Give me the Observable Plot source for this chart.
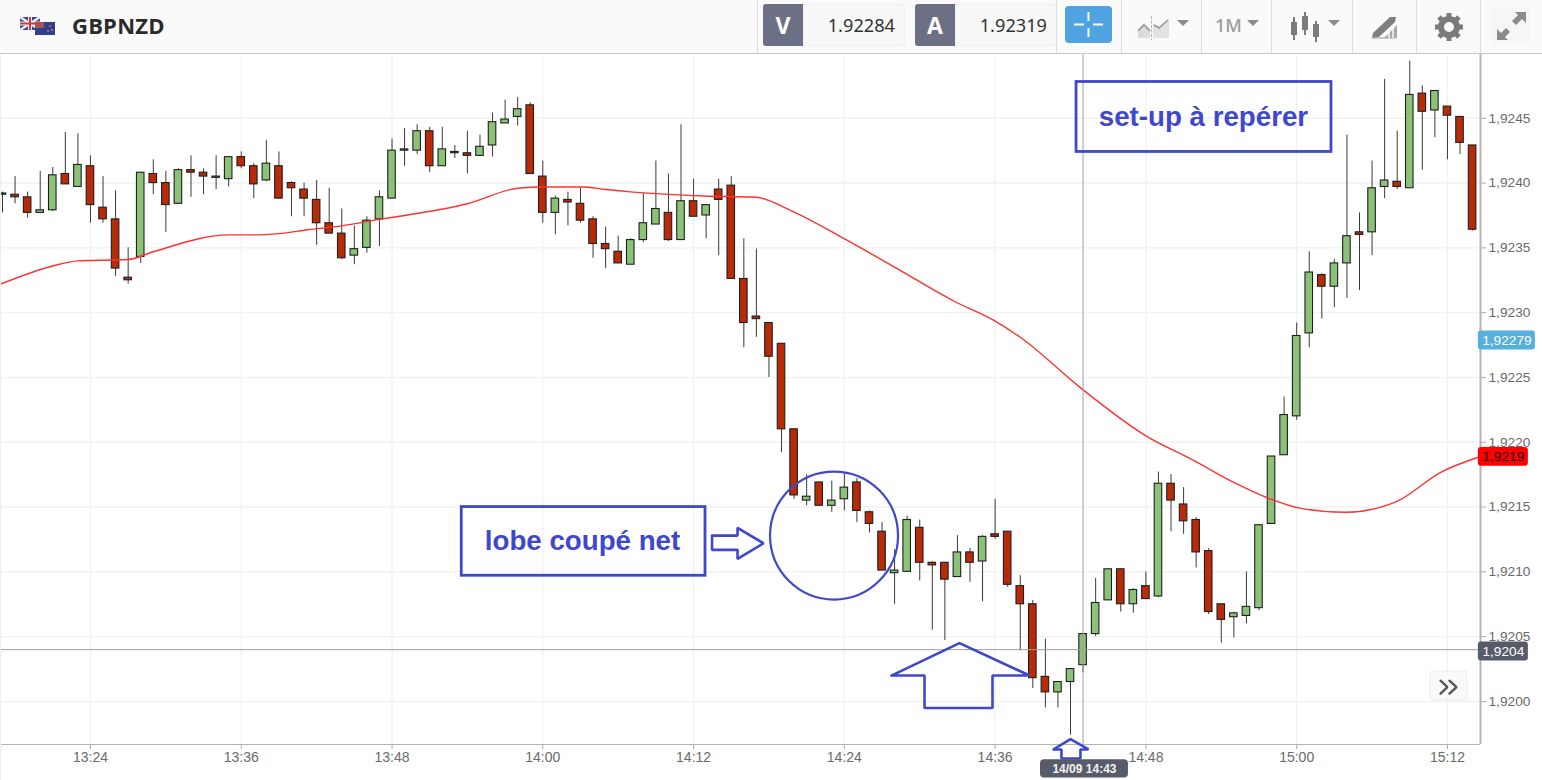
<!DOCTYPE html>
<html lang="fr">
<head>
<meta charset="utf-8">
<title>GBPNZD</title>
<script src="https://cdn.jsdelivr.net/npm/d3@7"></script>
<script src="https://cdn.jsdelivr.net/npm/@observablehq/plot@0.6"></script>
<style>
html,body{margin:0;padding:0;background:#fff;overflow:hidden;}
#page{position:relative;width:1542px;height:780px;}
#bar{position:absolute;left:0;top:0;width:1542px;height:53px;background:#fafafa;border-bottom:1.5px solid #c8c8c8;font-family:"Open Sans",sans-serif;}
#bar > *{position:absolute;}
#sym{left:72px;top:10px;font-size:22px;font-weight:700;color:#2b2b2b;letter-spacing:.2px;}
.k{top:4px;width:40px;height:42px;background:#6b7085;color:#fff;font-size:23px;font-weight:700;text-align:center;line-height:42px;border-radius:3px 0 0 3px;}
.v{top:4px;width:100px;height:40px;background:#f8f8f8;border:1px solid #f0f0f0;border-radius:0 3px 3px 0;box-sizing:content-box;color:#333;font-family:"Noto Sans",sans-serif;font-size:18.2px;line-height:40px;text-align:right;}
.v span{padding-right:9px;}
.sep{top:0;width:1px;height:53px;background:#dcdcdc;}
.caret{width:0;height:0;border-left:6px solid transparent;border-right:6px solid transparent;border-top:6px solid #8b8b8b;top:20px;}
#tf{left:1215px;top:13px;font-family:"Open Sans",sans-serif;font-size:18px;font-weight:600;color:#a0a0a0;}
#plus{left:1065px;top:6px;width:47px;height:37px;background:#4fa3e0;border-radius:4px;}
#chart{position:absolute;left:0;top:54px;width:1542px;height:726px;}
#edge{position:absolute;left:0;top:0;width:1px;height:780px;background:#eee;}
</style>
</head>
<body>
<div id="page">
<div id="chart"></div>
<div id="edge"></div>
<div id="bar">
  <svg style="left:19px;top:16px" width="38" height="20" viewBox="0 0 38 20">
    <rect x="1" y="1" width="20" height="13" fill="#3b4a8f"/>
    <path d="M1 1L21 14M21 1L1 14" stroke="#eee" stroke-width="2.4"/>
    <path d="M11 1V14M1 7.5H21" stroke="#eee" stroke-width="4"/>
    <path d="M11 1V14M1 7.5H21" stroke="#d03a40" stroke-width="2"/>
    <rect x="16" y="6" width="20" height="13" fill="#2f3f8e"/>
    <rect x="16" y="6" width="9" height="6" fill="#a55"/>
    <circle cx="31" cy="10" r="1" fill="#e66"/><circle cx="33" cy="14" r="1" fill="#e66"/><circle cx="29" cy="15" r="1" fill="#e66"/>
  </svg>
  <div id="sym">GBPNZD</div>
  <div class="sep" style="left:757px"></div>
  <div class="k" style="left:763px">V</div><div class="v" style="left:803px"><span>1.92284</span></div>
  <div class="k" style="left:915px">A</div><div class="v" style="left:955px"><span>1.92319</span></div>
  <div class="sep" style="left:1056px"></div>
  <div id="plus">
    <svg width="47" height="37" style="position:absolute;left:0;top:0"><path d="M23.5 6V15M23.5 22V31M9 18.5H19M28 18.5H38" stroke="#fff" stroke-width="2"/></svg>
  </div>
  <div class="sep" style="left:1121px"></div>
  <svg style="left:1137px;top:14px" width="34" height="26" viewBox="0 0 34 26">
    <path d="M1 22V15L7 9L13 15V24H1Z" fill="#dcdcdc"/><path d="M16 24V10L22 12L32 5V24Z" fill="#e2e2e2"/>
    <path d="M1 17L7 11L13 17M17 11L22 14L31 6" fill="none" stroke="#9a9a9a" stroke-width="1.6"/>
    <path d="M14.5 2V26" stroke="#b5b5b5" stroke-dasharray="3 1.5"/>
  </svg>
  <div class="caret" style="left:1177px"></div>
  <div class="sep" style="left:1201px"></div>
  <div id="tf">1M</div>
  <div class="caret" style="left:1247px"></div>
  <div class="sep" style="left:1271px"></div>
  <svg style="left:1289px;top:11px" width="32" height="31" viewBox="0 0 32 31" fill="#7b7b7b" stroke="#7b7b7b">
    <path d="M5 6V29M16 1V24M27 10V31" fill="none" stroke-width="2"/>
    <rect x="2" y="11" width="6" height="13" stroke="none"/><rect x="13" y="5" width="6" height="14" stroke="none"/><rect x="24" y="13" width="6" height="13" stroke="none"/>
  </svg>
  <div class="caret" style="left:1328px"></div>
  <div class="sep" style="left:1352px"></div>
  <svg style="left:1371px;top:15px" width="28" height="24" viewBox="0 0 28 24">
    <path d="M26 10V23H13Z" fill="#a8a8a8"/>
    <path d="M2 18L19 2L25 2L24 7L8 22L1 23Z" fill="#7f7f7f"/>
    <path d="M1 23H24" stroke="#a8a8a8" stroke-width="1.2"/>
    <path d="M18 23V17M22 23V13" stroke="#fafafa" stroke-width="1.5"/>
  </svg>
  <div class="sep" style="left:1416px"></div>
  <svg style="left:1434px;top:12px" width="30" height="30" viewBox="0 0 30 30">
    <circle cx="15" cy="15" r="8" fill="none" stroke="#7b7b7b" stroke-width="6"/>
    <path d="M15 1V5M15 25V29M1 15H5M25 15H29M5 5L8 8M22 22L25 25M25 5L22 8M8 22L5 25" stroke="#7b7b7b" stroke-width="5"/>
  </svg>
  <div class="sep" style="left:1480px"></div>
  <svg style="left:1492px;top:8px" width="38" height="36" viewBox="0 0 38 36">
    <rect width="38" height="36" fill="#f6f6f6"/>
    <path d="M23 4H34V15L30 11L24 17L20 13L26 7ZM5 32V21L9 25L14 20L18 24L13 29L16 32Z" fill="#8b8b8b"/>
  </svg>
</div>
</div>
<script>
// Time in minutes after 13:00; one candle per minute
const firstMinute = 17;
const opens = [1.92391,1.92391,1.92389,1.92377,1.92379,1.92407,1.92397,1.92413,1.92381,1.92372,
1.92327,1.92343,1.92407,1.92400,1.92384,1.92410,1.92408,1.92404,1.92403,1.92420,
1.92413,1.92402,1.92413,1.92400,1.92395,1.92387,1.92369,1.92361,1.92344,1.92350,
1.92372,1.92388,1.92425,1.92425,1.92440,1.92413,1.92424,1.92423,1.92421,1.92429,
1.92446,1.92451,1.92460,1.92405,1.92377,1.92387,1.92384,1.92372,1.92353,1.92347,
1.92337,1.92356,1.92368,1.92377,1.92356,1.92386,1.92375,1.92395,1.92398,1.92326,
1.92297,1.92292,1.92276,1.92210,1.92155,1.92169,1.92151,1.92156,1.92169,1.92146,
1.92131,1.92099,1.92100,1.92134,1.92107,1.92107,1.92096,1.92115,1.92108,1.92129,
1.92131,1.92089,1.92075,1.92019,1.92007,1.92015,1.92028,1.92052,1.92078,1.92102,
1.92075,1.92089,1.92081,1.92168,1.92152,1.92140,1.92116,1.92075,1.92065,1.92066,
1.92072,1.92137,1.92190,1.92220,1.92284,1.92329,1.92320,1.92338,1.92362,1.92362,
1.92397,1.92401,1.92396,1.92469,1.92456,1.92459,1.92451,1.92429];
const closes = [1.92392,1.92389,1.92377,1.92379,1.92406,1.92399,1.92414,1.92383,1.92372,1.92334,
1.92325,1.92408,1.92400,1.92383,1.92410,1.92408,1.92405,1.92405,1.92420,1.92413,
1.92399,1.92415,1.92388,1.92396,1.92388,1.92369,1.92361,1.92342,1.92349,1.92371,
1.92389,1.92425,1.92426,1.92440,1.92413,1.92426,1.92423,1.92421,1.92428,1.92447,
1.92449,1.92457,1.92407,1.92377,1.92388,1.92385,1.92371,1.92353,1.92349,1.92338,
1.92356,1.92369,1.92380,1.92356,1.92386,1.92374,1.92383,1.92387,1.92326,1.92292,
1.92295,1.92266,1.92210,1.92159,1.92158,1.92151,1.92155,1.92165,1.92147,1.92137,
1.92101,1.92101,1.92140,1.92107,1.92105,1.92094,1.92115,1.92107,1.92127,1.92127,
1.92090,1.92075,1.92018,1.92007,1.92015,1.92025,1.92052,1.92076,1.92102,1.92075,
1.92086,1.92079,1.92168,1.92155,1.92139,1.92115,1.92069,1.92063,1.92068,1.92073,
1.92136,1.92189,1.92221,1.92282,1.92331,1.92320,1.92338,1.92359,1.92360,1.92396,
1.92402,1.92397,1.92468,1.92455,1.92471,1.92452,1.92431,1.92364];
const highs = [1.92393,1.92405,1.92393,1.92409,1.92412,1.92439,1.92438,1.92421,1.92405,1.92394,
1.92350,1.92408,1.92418,1.92409,1.92411,1.92421,1.92411,1.92421,1.92420,1.92424,
1.92415,1.92433,1.92424,1.92401,1.92400,1.92402,1.92396,1.92380,1.92367,1.92374,
1.92394,1.92434,1.92442,1.92445,1.92443,1.92443,1.92429,1.92440,1.92437,1.92454,
1.92464,1.92466,1.92462,1.92417,1.92390,1.92393,1.92396,1.92374,1.92366,1.92359,
1.92357,1.92392,1.92417,1.92407,1.92445,1.92403,1.92383,1.92403,1.92405,1.92357,
1.92349,1.92292,1.92276,1.92210,1.92175,1.92169,1.92170,1.92176,1.92172,1.92147,
1.92138,1.92117,1.92143,1.92140,1.92108,1.92107,1.92128,1.92118,1.92128,1.92156,
1.92131,1.92097,1.92078,1.92048,1.92015,1.92025,1.92052,1.92095,1.92102,1.92102,
1.92087,1.92100,1.92177,1.92175,1.92165,1.92142,1.92118,1.92075,1.92069,1.92100,
1.92136,1.92189,1.92235,1.92292,1.92347,1.92330,1.92341,1.92437,1.92377,1.92417,
1.92480,1.92440,1.92494,1.92475,1.92471,1.92459,1.92451,1.92429];
const lows = [1.92377,1.92384,1.92373,1.92377,1.92378,1.92399,1.92397,1.92369,1.92369,1.92328,
1.92322,1.92338,1.92391,1.92362,1.92384,1.92389,1.92391,1.92395,1.92397,1.92411,
1.92388,1.92401,1.92388,1.92374,1.92374,1.92352,1.92361,1.92341,1.92337,1.92346,
1.92351,1.92388,1.92413,1.92422,1.92408,1.92413,1.92419,1.92407,1.92421,1.92420,
1.92446,1.92444,1.92407,1.92369,1.92360,1.92367,1.92369,1.92342,1.92334,1.92338,
1.92337,1.92354,1.92368,1.92355,1.92356,1.92374,1.92357,1.92344,1.92326,1.92273,
1.92281,1.92250,1.92192,1.92156,1.92151,1.92151,1.92146,1.92147,1.92138,1.92130,
1.92101,1.92075,1.92100,1.92093,1.92055,1.92047,1.92096,1.92092,1.92077,1.92125,
1.92088,1.92039,1.92010,1.91995,1.91995,1.91974,1.92022,1.92050,1.92078,1.92069,
1.92068,1.92079,1.92080,1.92131,1.92129,1.92103,1.92067,1.92045,1.92049,1.92060,
1.92070,1.92137,1.92190,1.92217,1.92273,1.92295,1.92304,1.92311,1.92317,1.92344,
1.92388,1.92395,1.92396,1.92410,1.92435,1.92418,1.92422,1.92363];

// Moving average
const maMinutes = [16.84,21,23,27,29,35,37,39,41.3,44,47,49,54,58,60,63.2,65,67.2,72.8,77,79.7,84.2,88.2,92.7,95.9,98,102.8,108,111.8,115,117.7,120.3,123.9,127.9,131.5,134.63];
const maValues = [1.92322,1.92336,1.92340,1.92341,1.92347,1.92360,1.92360,1.92361,1.92364,1.92367,1.92372,1.92375,1.92384,1.92396,1.92397,1.92397,1.92395,1.92393,1.92390,1.92389,1.92379,1.92356,1.92334,1.92309,1.92294,1.92281,1.92242,1.92205,1.92186,1.92169,1.92157,1.92149,1.92146,1.92154,1.92177,1.92189];

// Axes
const xDomain = [16.84, 134.63];
const yDomain = [1.919668, 1.924992];
const xTicks = [24,36,48,60,72,84,96,108,120,132];
const xLabels = ["13:24","13:36","13:48","14:00","14:12","14:24","14:36","14:48","15:00","15:12"];
const yTicks = [1.92,1.9205,1.921,1.9215,1.922,1.9225,1.923,1.9235,1.924,1.9245];

// Crosshair
const crossMinute = 103;
const crossPrice = 1.92040;

// Right-hand value tags
const tagPrices = [1.922785,1.921887,1.920386];
const tagLabels = ["1,92279","1,9219","1,9204"];
const tagFills = ["#55b0de","#ff0000","#585c6a"];
const tagInks = ["#ffffff","#1a0000","#ffffff"];
const tagEnds = [139,138.44,138.44];

// Drawn annotations, in minutes and prices
const ink = "#3f48cc";
const lobeBoxMinutes = [53.55,72.95];
const lobeBoxPrices = [1.92097,1.92150];
const setupBoxMinutes = [102.48,122.77];
const setupBoxPrices = [1.92424,1.92478];
const circleMinute = 83.18, circlePrice = 1.92128;
const arrowRight = {m:[73.47,75.5,75.5,77.57,75.5,75.5,73.47,73.47], p:[1.92128,1.92128,1.92134,1.92122,1.92110,1.92117,1.92117,1.92128]};
const arrowBig = {m:[87.75,93.16,98.74,95.79,95.79,90.38,90.38,87.75], p:[1.92020,1.92045,1.92020,1.92020,1.91995,1.91995,1.92020,1.92020]};
const arrowSmall = {m:[100.65,102,103.43,102.79,102.79,101.28,101.28,100.65], p:[1.91963,1.91971,1.91963,1.91963,1.91956,1.91956,1.91963,1.91963]};
const chevrons = {m:[131.45,132,131.45,132.16,132.72,132.16], p:[1.92016,1.92011,1.92006,1.92016,1.92011,1.92006], z:[0,0,0,1,1,1]};

const candles = opens.map((o,i)=>({t:firstMinute+i,open:o,close:closes[i],high:highs[i],low:lows[i]}));
const ma = maMinutes.map((m,i)=>({m,v:maValues[i]}));
const tags = tagPrices.map((p,i)=>({p,label:tagLabels[i],fill:tagFills[i],ink:tagInks[i],end:tagEnds[i]}));
const toPts = a => a.m.map((m,i)=>({m,p:a.p[i],z:a.z?a.z[i]:0}));
const axisColor = "#6a6a6a";

const chart = Plot.plot({
  width:1542, height:726,
  marginLeft:0, marginRight:62, marginTop:0, marginBottom:36,
  style:{fontFamily:"'Liberation Sans',Arial,sans-serif",background:"transparent"},
  x:{domain:xDomain},
  y:{domain:yDomain},
  marks:[
    Plot.gridY(yTicks,{stroke:"#f1f1f1",strokeOpacity:1,strokeWidth:1.4}),
    Plot.gridX(xTicks,{stroke:"#f1f1f1",strokeOpacity:1,strokeWidth:1.2}),
    Plot.axisY(yTicks,{anchor:"right",tickSize:5,tickPadding:3,fontSize:13.7,stroke:"#aaa",fill:axisColor,label:null,tickFormat:d=>d.toFixed(4).replace(".",",")}),
    Plot.axisX(xTicks,{anchor:"bottom",tickSize:5,tickPadding:3,fontSize:14,stroke:"#aaa",fill:axisColor,label:null,tickFormat:(d,i)=>xLabels[xTicks.indexOf(d)]}),
    Plot.ruleX([xDomain[1]],{stroke:"#b4b4b4",strokeWidth:2}),
    Plot.ruleY([yDomain[0]],{stroke:"#b4b4b4",strokeWidth:1.2}),
    Plot.ruleX(candles,{x:"t",y1:"low",y2:"high",stroke:"#3a3a3a",strokeWidth:1}),
    Plot.rect(candles,{x1:d=>d.t-0.3,x2:d=>d.t+0.3,y1:"open",y2:"close",
      fill:d=>d.close>=d.open?"#8bc278":"#b82a08",stroke:"#1f1f1f",strokeWidth:1.1}),
    Plot.line(ma,{x:"m",y:"v",stroke:"#ff3030",strokeWidth:1.4,curve:"monotone-x"}),
    Plot.ruleX([crossMinute],{stroke:"#a0a0a0",strokeWidth:1}),
    Plot.ruleY([crossPrice],{stroke:"#a0a0a0",strokeWidth:1}),
    // button
    Plot.rect([0],{x1:130.65,x2:133.59,y1:1.92001,y2:1.92023,fill:"#fafafa",stroke:"#ececec",rx:3}),
    Plot.line(toPts(chevrons),{x:"m",y:"p",z:"z",stroke:"#555",strokeWidth:2.4,strokeLinejoin:"miter"}),
    // annotations
    Plot.rect([0],{x1:lobeBoxMinutes[0],x2:lobeBoxMinutes[1],y1:lobeBoxPrices[0],y2:lobeBoxPrices[1],fill:"none",stroke:ink,strokeWidth:2.8}),
    Plot.rect([0],{x1:setupBoxMinutes[0],x2:setupBoxMinutes[1],y1:setupBoxPrices[0],y2:setupBoxPrices[1],fill:"none",stroke:ink,strokeWidth:2.8}),
    Plot.text(["lobe coupé net"],{x:63.16,y:1.92124,fontSize:27.7,fontWeight:700,fill:ink}),
    Plot.text(["set-up à repérer"],{x:112.58,y:1.924506,fontSize:27.7,fontWeight:700,fill:ink}),
    Plot.dot([0],{x:()=>circleMinute,y:()=>circlePrice,r:64,stroke:ink,strokeWidth:2.2,fill:"none"}),
    Plot.line(toPts(arrowRight),{x:"m",y:"p",stroke:ink,strokeWidth:2.6,strokeLinejoin:"miter"}),
    Plot.line(toPts(arrowBig),{x:"m",y:"p",stroke:ink,strokeWidth:2.6,strokeLinejoin:"miter"}),
    Plot.line(toPts(arrowSmall),{x:"m",y:"p",stroke:ink,strokeWidth:2.6,strokeLinejoin:"miter"}),
    // tags
    Plot.rect(tags,{x1:()=>134.46,x2:"end",y1:d=>d.p-0.000073,y2:d=>d.p+0.000073,fill:"fill",rx:3}),
    Plot.text(tags,{x:d=>(134.46+d.end)/2,y:"p",text:"label",fill:"ink",fontSize:13.7}),
    Plot.rect([0],{x1:99.61,x2:106.61,y1:1.91941,y2:1.91955,fill:"#585c6a",rx:4}),
    Plot.text(["14/09 14:43"],{x:103.11,y:1.91948,fill:"#f4f4f4",fontSize:12,fontWeight:700})
  ]
});
document.getElementById("chart").appendChild(chart);
</script>
</body>
</html>
